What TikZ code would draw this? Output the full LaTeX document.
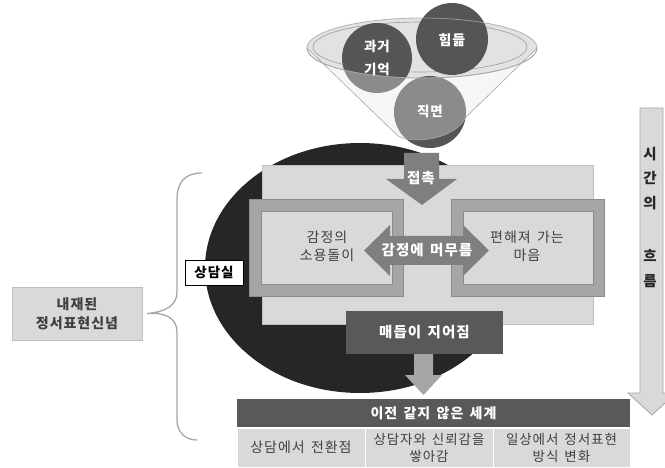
\documentclass[tikz,border=0pt]{standalone}
\usepackage{fontspec}
\setmainfont{Noto Sans CJK KR}[LetterSpace=7,WordSpace=1.5]
\definecolor{c26}{HTML}{262626}
\definecolor{c40}{HTML}{404040}
\definecolor{c55}{HTML}{555555}
\definecolor{c59}{HTML}{595959}
\definecolor{c7f}{HTML}{7F7F7F}
\definecolor{c8c}{HTML}{8C8C8C}
\definecolor{ca6}{HTML}{A6A6A6}
\definecolor{cbf}{HTML}{BFBFBF}
\definecolor{cd9}{HTML}{D9D9D9}
\definecolor{ce2}{HTML}{E2E2E2}
\definecolor{cf2}{HTML}{F2F2F2}
\begin{document}
\begin{tikzpicture}[x=1pt,y=-1pt,
  txt/.style={font=\fontsize{14}{18}\selectfont, align=center, inner sep=0pt, text=c40},
  btxt/.style={font=\bfseries\fontsize{14.5}{18}\selectfont, align=center, inner sep=0pt},
  wtxt/.style={btxt, text=white},
  ball/.style={circle, fill=c55, inner sep=0pt, minimum size=#1},
  box/.style={inner sep=0pt, minimum width=#1},
  blockarrow/.style={fill=c7f}]
\useasboundingbox (0,0) rectangle (665,468);

% ---------- funnel ----------
\fill[ce2] (422,48) ellipse [x radius=115, y radius=30];
\path[fill=cf2] (307,48) -- (398,136) .. controls (418,146) and (458,136) .. (465,118) -- (537,48)
  .. controls (537,64.6) and (485.5,78) .. (422,78) .. controls (358.5,78) and (307,64.6) .. (307,48) -- cycle;
\node[ball=70pt] (past) at (377,58) {};
\node[ball=72pt] (hard) at (452,39) {};
\node[ball=72pt] (face) at (430,112) {};
\path[fill=white, fill opacity=0.32, draw=ca6, line width=0.6] (307,48) -- (398,136) .. controls (418,146) and (458,136) .. (465,118) -- (537,48)
  .. controls (537,64.6) and (485.5,78) .. (422,78) .. controls (358.5,78) and (307,64.6) .. (307,48) -- cycle;
\draw[ca6, line width=0.8, opacity=0.8] (422,48) ellipse [x radius=115, y radius=30];
\draw[c55, line width=0.6, opacity=0.5] (420,47) ellipse [x radius=107, y radius=25];
\node[btxt, text=white, font=\bfseries\fontsize{13.5}{23}\selectfont] (pastt) at (past.center) {과거\\기억};
\node[btxt, text=white, font=\bfseries\fontsize{14}{18}\selectfont] (hardt) at (452,40) {힘듦};
\node[btxt, text=white, font=\bfseries\fontsize{13.5}{18}\selectfont] (facet) at (430,111) {직면};

% ---------- counselling room ----------
\fill[c26] (360,268) ellipse [x radius=155, y radius=125];
\node[box=331pt, minimum height=159pt, fill=cd9, draw=cbf] (room) at (427.5,244.5) {};

\node[box=154pt, minimum height=97pt, fill=ca6, draw=c8c] (lfo) at (326,247.5) {};
\node[box=131pt, minimum height=73pt, fill=cd9, draw=c8c] (lfi) at (326.5,247.5) {};
\node[txt] (swirl) at (327,246) {감정의\\소용돌이};

\node[box=153pt, minimum height=97pt, fill=ca6, draw=c8c] (rfo) at (527.5,247.5) {};
\node[box=130pt, minimum height=73pt, fill=cd9, draw=c8c] (rfi) at (528,247.5) {};
\node[txt] (ease) at (527,246) {편해져 가는\\마음};

% contact arrow
\fill[blockarrow] (404,153) -- (439,153) -- (439,179) -- (457,179) -- (422,205) -- (386,179) -- (404,179) -- cycle;
\node[wtxt] (contact) at (421,178) {접촉};

% staying double arrow
\fill[blockarrow] (364,250.5) -- (390,225) -- (390,236) -- (463,236) -- (463,225) -- (489,250.5)
  -- (463,276) -- (463,265) -- (390,265) -- (390,276) -- cycle;
\node[wtxt] (stay) at (427,250) {감정에 머무름};

% knot box
\node[box=157pt, minimum height=43pt, fill=c59, wtxt] (knot) at (424.5,332.5) {매듭이 지어짐};
\fill[ca6] (414,354) -- (433,354) -- (433,375) -- (442,375) -- (423.5,395) -- (405,375) -- (414,375) -- cycle;

% ---------- bottom table ----------
\node[box=393pt, minimum height=28pt, fill=c59, wtxt, font=\bfseries\fontsize{14}{18}\selectfont] (world) at (433.5,413) {이전 같지 않은 세계};
\node[box=128pt, minimum height=39pt, fill=cd9, draw=white, line width=1, txt] (c1) at (301,447.5) {상담에서 전환점};
\node[box=128pt, minimum height=39pt, fill=cd9, draw=white, line width=1, txt, font=\fontsize{13.5}{17}\selectfont] (c2) at (429,447.5) {상담자와 신뢰감을\\쌓아감};
\node[box=137pt, minimum height=39pt, fill=cd9, draw=white, line width=1, txt, font=\fontsize{13.5}{17}\selectfont] (c3) at (561.5,447.5) {일상에서 정서표현\\방식 변화};

% ---------- time arrow ----------
\path[fill=cd9, draw=ca6, line width=0.8] (640,108) -- (663,108) -- (663,393) -- (676,393) -- (652,415) -- (628,393) -- (640,393) -- cycle;
\node[btxt, text=c26, font=\bfseries\fontsize{14.5}{24.5}\selectfont] (time) at (650,217) {시\\간\\의\\[29pt]흐\\름};

% ---------- brace and labels ----------
\node[box=130pt, minimum height=53pt, fill=cd9, draw=cbf, btxt, text=c40, font=\bfseries\fontsize{14}{19}\selectfont] (belief) at (77,313.5) {내재된\\정서표현신념};
\coordinate (bt) at (202,173);
\coordinate (bb) at (197,440);
\draw[ca6, line width=1.3] (bt) .. controls (185,173) and (177,182) .. (177,200) -- (177,292)
  .. controls (177,306) and (165,312) .. (belief.east -| 147,0) .. controls (165,312) and (177,318) .. (177,332)
  -- (177,420) .. controls (177,432) and (185,440) .. (bb);
\node[box=58pt, minimum height=25pt, fill=white, draw=black, line width=0.6, font=\bfseries\fontsize{13.5}{16}\selectfont] (roomlabel) at (214,272.5) {상담실};
\end{tikzpicture}
\end{document}
